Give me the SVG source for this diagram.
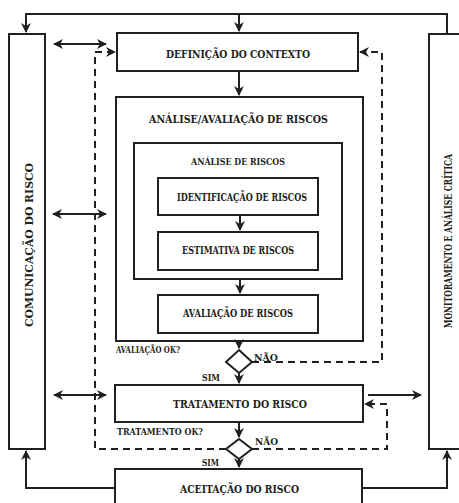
<svg xmlns="http://www.w3.org/2000/svg" width="459" height="503" viewBox="0 0 459 503">
<style>
.box{fill:#fff;stroke:#231f20;stroke-width:2}
.ln{fill:none;stroke:#231f20;stroke-width:2}
.dash{fill:none;stroke:#231f20;stroke-width:2;stroke-dasharray:7,5}
.t{font-family:"DejaVu Serif Condensed","DejaVu Serif","Liberation Serif",serif;font-weight:bold;fill:#231f20;text-anchor:middle}
.l{font-family:"DejaVu Serif Condensed","DejaVu Serif","Liberation Serif",serif;font-weight:bold;fill:#231f20}
</style>
<defs>
<marker id="ah" viewBox="0 0 10 10" refX="9" refY="5" markerWidth="5" markerHeight="5" orient="auto-start-reverse" markerUnits="strokeWidth">
<path d="M0,0 L10,5 L0,10 L3,5 z" fill="#231f20"/>
</marker>
</defs>
<rect x="0" y="0" width="459" height="503" fill="#fff"/>
<g id="comunicacao">
<rect class="box" x="9" y="34" width="36" height="415"/>
<text class="t" transform="translate(32.5,245) rotate(-90)" font-size="11.5" textLength="164" lengthAdjust="spacingAndGlyphs">COMUNICAÇÃO DO RISCO</text>
</g>
<g id="monitoramento">
<rect class="box" x="429" y="34" width="40" height="415"/>
<text class="t" transform="translate(451.5,241) rotate(-90)" font-size="11.5" textLength="174" lengthAdjust="spacingAndGlyphs">MONITORAMENTO E ANÁLISE CRÍTICA</text>
</g>
<g id="definicao">
<rect class="box" x="117" y="33" width="241" height="38"/>
<text class="t" x="238" y="58" font-size="11.5" textLength="144" lengthAdjust="spacingAndGlyphs">DEFINIÇÃO DO CONTEXTO</text>
</g>
<g id="analise-avaliacao">
<rect class="box" x="116" y="97" width="247" height="244"/>
<text class="t" x="238.5" y="123" font-size="11.5" textLength="179" lengthAdjust="spacingAndGlyphs">ANÁLISE/AVALIAÇÃO DE RISCOS</text>
</g>
<g id="analise">
<rect class="box" x="134" y="143" width="208" height="136"/>
<text class="t" x="238" y="165" font-size="10" textLength="94" lengthAdjust="spacingAndGlyphs">ANÁLISE DE RISCOS</text>
</g>
<g id="identificacao">
<rect class="box" x="158" y="178" width="160" height="37"/>
<text class="t" x="242" y="200.5" font-size="10.5" textLength="130" lengthAdjust="spacingAndGlyphs">IDENTIFICAÇÃO DE RISCOS</text>
</g>
<g id="estimativa">
<rect class="box" x="158" y="232" width="160" height="38"/>
<text class="t" x="238" y="254" font-size="10.5" textLength="112" lengthAdjust="spacingAndGlyphs">ESTIMATIVA DE RISCOS</text>
</g>
<g id="avaliacao">
<rect class="box" x="158" y="295" width="160" height="38"/>
<text class="t" x="238" y="317" font-size="10.5" textLength="110" lengthAdjust="spacingAndGlyphs">AVALIAÇÃO DE RISCOS</text>
</g>
<g id="decisao-avaliacao">
<polygon class="box" points="239,350 252,362 239,373 226,362"/>
<text class="l" x="116" y="353" font-size="9" textLength="64" lengthAdjust="spacingAndGlyphs">AVALIAÇÃO OK?</text>
<text class="l" x="254" y="361" font-size="9" textLength="24" lengthAdjust="spacingAndGlyphs">NÃO</text>
<text class="l" x="202" y="381" font-size="9" textLength="18" lengthAdjust="spacingAndGlyphs">SIM</text>
</g>
<g id="tratamento">
<rect class="box" x="115" y="385" width="248" height="37"/>
<text class="t" x="240" y="408" font-size="11.5" textLength="134" lengthAdjust="spacingAndGlyphs">TRATAMENTO DO RISCO</text>
</g>
<g id="decisao-tratamento">
<polygon class="box" points="239,439 252,449 239,459 226,449"/>
<text class="l" x="117" y="435" font-size="9" textLength="86" lengthAdjust="spacingAndGlyphs">TRATAMENTO OK?</text>
<text class="l" x="255" y="445" font-size="9" textLength="23" lengthAdjust="spacingAndGlyphs">NÃO</text>
<text class="l" x="202" y="466" font-size="9" textLength="17" lengthAdjust="spacingAndGlyphs">SIM</text>
</g>
<g id="aceitacao">
<rect class="box" x="115" y="469" width="247" height="40"/>
<text class="t" x="239.5" y="492.5" font-size="11.5" textLength="119" lengthAdjust="spacingAndGlyphs">ACEITAÇÃO DO RISCO</text>
</g>
<g id="connectors">
<path class="ln" d="M447,34 V14 H26 V32" marker-end="url(#ah)"/>
<path class="ln" d="M239,14 V31" marker-end="url(#ah)"/>
<path class="ln" d="M115,488 H26 V451" marker-end="url(#ah)"/>
<path class="ln" d="M362,488 H447 V451" marker-end="url(#ah)"/>
<path class="ln" d="M239,71 V95" marker-end="url(#ah)"/>
<path class="ln" d="M240,215 V230" marker-end="url(#ah)"/>
<path class="ln" d="M240,279 V293" marker-end="url(#ah)"/>
<path class="ln" d="M239,341 V348" marker-end="url(#ah)"/>
<path class="ln" d="M239,373 V383" marker-end="url(#ah)"/>
<path class="ln" d="M239,422 V437" marker-end="url(#ah)"/>
<path class="ln" d="M239,459 V467" marker-end="url(#ah)"/>
<path class="ln" d="M54,44 H106" marker-start="url(#ah)" marker-end="url(#ah)"/>
<path class="ln" d="M53,214 H106" marker-start="url(#ah)" marker-end="url(#ah)"/>
<path class="ln" d="M54,395 H106" marker-start="url(#ah)" marker-end="url(#ah)"/>
<path class="ln" d="M368,395 H421" marker-end="url(#ah)"/>
<path class="dash" d="M252,362 H382 V52 H360" marker-end="url(#ah)"/>
<path class="dash" d="M226,449 H95 V52 H115" marker-end="url(#ah)"/>
<path class="dash" d="M252,449 H387 V404 H365" marker-end="url(#ah)"/>
</g>
</svg>
